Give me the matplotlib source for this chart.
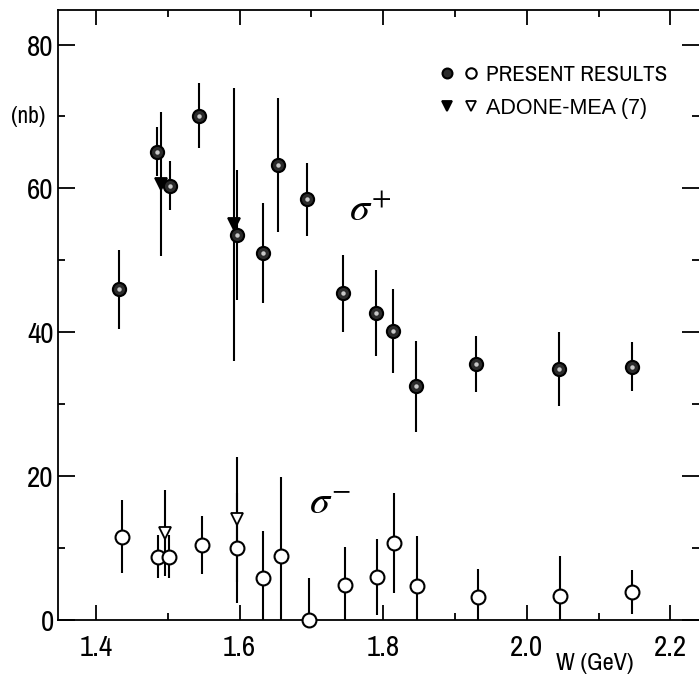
import matplotlib
matplotlib.use("Agg")
import matplotlib.pyplot as plt
from matplotlib import font_manager as fm
from matplotlib.legend_handler import HandlerTuple

# pick a condensed sans if one is installed, else Liberation Sans
fam, stretch = 'Liberation Sans', 'normal'
for f in fm.fontManager.ttflist:
    if 'Narrow' in f.name:
        fam, stretch = f.name, 'normal'
        break
plt.rcParams['font.family'] = [fam, 'DejaVu Sans']
plt.rcParams['font.stretch'] = stretch
plt.rcParams['mathtext.fontset'] = 'stix'

# ---- data ----
# present results, sigma+
W_plus = [1.432, 1.485, 1.503, 1.544, 1.597, 1.633, 1.654, 1.694, 1.744, 1.790, 1.814, 1.846, 1.930, 2.045, 2.146]
sig_plus = [46.0, 65.1, 60.4, 70.1, 53.5, 51.0, 63.2, 58.5, 45.4, 42.7, 40.2, 32.5, 35.6, 34.9, 35.2]
err_plus = [5.5, 3.4, 3.4, 4.5, 9.0, 7.0, 9.3, 5.1, 5.4, 6.0, 5.8, 6.3, 3.9, 5.2, 3.4]

# present results, sigma-
W_minus = [1.436, 1.486, 1.502, 1.548, 1.597, 1.633, 1.658, 1.697, 1.747, 1.791, 1.815, 1.847, 1.932, 2.047, 2.146]
sig_minus = [11.6, 8.8, 8.8, 10.4, 10.0, 5.8, 8.9, 0.0, 4.9, 6.0, 10.7, 4.7, 3.2, 3.3, 3.9]
err_minus = [5.1, 3.0, 3.0, 4.0, 7.7, 6.6, 11.0, 5.8, 5.3, 5.3, 6.9, 7.0, 3.9, 5.6, 3.0]

# ADONE-MEA (7)
W_adone_plus = [1.491, 1.592]
sig_adone_plus = [60.6, 55.0]
err_adone_plus = [10.0, 19.0]
W_adone_minus = [1.496, 1.597]
sig_adone_minus = [12.1, 14.0]
err_adone_minus = [6.0, 8.7]

x_major = [1.4, 1.6, 1.8, 2.0, 2.2]
x_minor = [1.5, 1.7, 1.9, 2.1]
x_labels = ['1.4', '1.6', '1.8', '2.0', '2.2']
y_major = [0, 20, 40, 60, 80]
y_minor = [10, 30, 50, 70]
y_labels = ['0', '20', '40', '60', '80']

fig = plt.figure(figsize=(6.99, 6.77), dpi=100)
ax = fig.add_axes([58 / 699, 57 / 677, (699 - 58) / 699, 610 / 677])

ax.set_xlim(1.347, 2.240)
ax.set_ylim(0, 84.8)

ebkw = dict(ecolor='black', elinewidth=1.5, capsize=0, linestyle='none', clip_on=True)

# ADONE error bars
ax.errorbar(W_adone_plus, sig_adone_plus, yerr=err_adone_plus, fmt='none', zorder=2, **ebkw)
ax.errorbar(W_adone_minus, sig_adone_minus, yerr=err_adone_minus, fmt='none', zorder=2, **ebkw)
# present error bars
ax.errorbar(W_plus, sig_plus, yerr=err_plus, fmt='none', zorder=2, **ebkw)
ax.errorbar(W_minus, sig_minus, yerr=err_minus, fmt='none', zorder=2, **ebkw)

# markers
h_tri_f, = ax.plot(W_adone_plus, sig_adone_plus, linestyle='none', marker='v', ms=9,
                   mfc='black', mec='black', mew=1.3, zorder=3)
h_tri_o, = ax.plot(W_adone_minus, sig_adone_minus, linestyle='none', marker='v', ms=9,
                   mfc='white', mec='black', mew=1.3, zorder=3)
h_circ_f, = ax.plot(W_plus, sig_plus, linestyle='none', marker='o', ms=9.5,
                    mfc='#2b2b2b', mec='black', mew=1.5, zorder=4)
ax.plot(W_plus, sig_plus, linestyle='none', marker='o', ms=3.2,
        mfc='#c8c8c8', mec='none', zorder=5)
h_circ_o, = ax.plot(W_minus, sig_minus, linestyle='none', marker='o', ms=10,
                    mfc='white', mec='black', mew=1.5, zorder=4, clip_on=False)

# axes styling
for s in ['left', 'bottom', 'top']:
    ax.spines[s].set_linewidth(1.3)
ax.spines['right'].set_visible(False)

ax.set_xticks(x_major)
ax.set_xticklabels(x_labels)
ax.set_xticks(x_minor, minor=True)
ax.set_yticks(y_major)
ax.set_yticklabels(y_labels)
ax.set_yticks(y_minor, minor=True)

ax.tick_params(axis='x', which='major', direction='in', length=11, width=1.3,
               top=True, bottom=True, labelsize=21, pad=10)
ax.tick_params(axis='x', which='minor', direction='in', length=5, width=1.3,
               top=True, bottom=True)
ax.tick_params(axis='y', which='major', direction='in', length=12, width=1.3,
               left=True, right=True, labelsize=21, pad=3)
ax.tick_params(axis='y', which='minor', direction='in', length=5, width=1.3,
               left=True, right=True)

# "(nb)" unit label at the 70 position
ax.text(-0.047, 70, '(nb)', transform=ax.get_yaxis_transform(), ha='center', va='center',
        fontsize=17)

# x axis title
ax.text(0.838, -0.071, 'W (GeV)', transform=ax.transAxes, ha='center', va='center', fontsize=17.5)

# sigma labels
ax.text(1.782, 57.0, r'$\sigma^{+}$', ha='center', va='center', fontsize=29)
ax.text(1.726, 16.3, r'$\sigma^{-}$', ha='center', va='center', fontsize=29)

# legend
leg = ax.legend(handles=[(h_circ_f, h_circ_o), (h_tri_f, h_tri_o)],
                labels=['PRESENT RESULTS', 'ADONE-MEA (7)'],
                handler_map={tuple: HandlerTuple(ndivide=None, pad=0.35)},
                loc='upper left', bbox_to_anchor=(0.58, 0.925), frameon=False,
                fontsize=16.5, handlelength=1.75, handletextpad=0.3, labelspacing=0.55,
                markerscale=0.75, borderaxespad=0)
leg.get_texts()[1].set_fontfamily(['Liberation Sans', 'DejaVu Sans'])
leg.get_texts()[1].set_fontsize(15.5)

fig.savefig('out.png', dpi=100)
